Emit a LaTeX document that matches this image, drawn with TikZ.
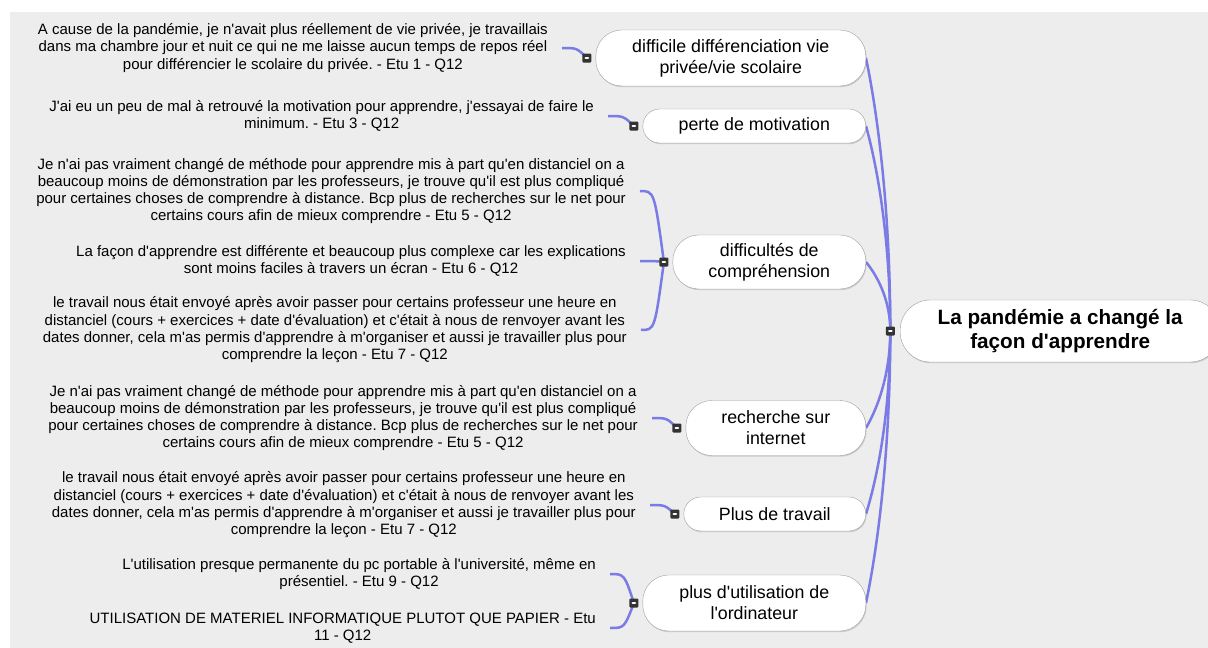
\documentclass[tikz,border=0pt]{standalone}
\usepackage{fontspec}
\newfontfamily\mapfont{Liberation Sans}
\usepackage{tikz}
\usetikzlibrary{positioning,backgrounds,shadows,calc}
\usepackage{xcolor}
\definecolor{bgc}{HTML}{EDEDED}
\definecolor{linkc}{HTML}{7B7BE6}
\definecolor{markc}{HTML}{333333}
\definecolor{rimc}{HTML}{A0A0A0}
\frenchspacing

\tikzset{
  branch/.style={draw=rimc, fill=white, rounded corners=#1, align=center, anchor=east,
    inner sep=0pt, font=\mapfont\fontsize{17.8}{21}\selectfont,
    drop shadow={shadow xshift=0.8pt, shadow yshift=-1.2pt, opacity=0.25, fill=black!60}},
  branch/.default=17pt,
  leaf/.style={align=center, anchor=east, inner xsep=14pt, inner ysep=0pt,
    font=\mapfont\fontsize{15}{17.3}\selectfont},
  link/.style={draw=linkc, line width=2.5pt},
  minus/.style={fill=markc, minimum size=9pt, inner sep=0pt, rounded corners=1pt,
    path picture={\fill[white] ([xshift=2pt,yshift=-0.8pt]path picture bounding box.west)
      rectangle ([xshift=-2pt,yshift=0.8pt]path picture bounding box.east);}},
}

\begin{document}
\begin{tikzpicture}[x=1pt,y=-1pt]
\useasboundingbox (0,0) rectangle (1208,648);

% centre
\node[branch=30pt, anchor=west, minimum width=320pt, minimum height=62pt,
  font=\mapfont\bfseries\fontsize{20.7}{24}\selectfont] (root) at (900,331)
  {La pandémie a changé la\\façon d'apprendre};
\node[minus, left=5pt of root] (mr) {};

% themes
\node[branch=26pt, minimum width=270pt, minimum height=56pt] (b1) at (866,58)
  {difficile différenciation vie\\privée/vie scolaire};
\node[branch, minimum width=223pt, minimum height=34pt] (b2) at (866,126)
  {perte de motivation};
\node[branch=26pt, minimum width=193pt, minimum height=54pt] (b3) at (866,262)
  {difficultés de\\compréhension};
\node[branch=26pt, minimum width=180pt, minimum height=55pt] (b4) at (866,428)
  {recherche sur\\internet};
\node[branch, minimum width=182pt, minimum height=34pt] (b5) at (866,514)
  {Plus de travail};
\node[branch=26pt, minimum width=223pt, minimum height=56pt] (b6) at (866,603)
  {plus d'utilisation de\\l'ordinateur};
\foreach \i in {1,...,6} {\node[minus, left=4pt of b\i] (m\i) {};}

% quotes
\node[leaf] (l1) at (562,48)
  {A cause de la pandémie, je n'avait plus réellement de vie privée, je travaillais\\
   dans ma chambre jour et nuit ce qui ne me laisse aucun temps de repos réel\\
   pour différencier le scolaire du privée. - Etu 1 - Q12};
\node[leaf] (l2) at (608,116)
  {J'ai eu un peu de mal à retrouvé la motivation pour apprendre, j'essayai de faire le\\
   minimum. - Etu 3 - Q12};
\node[leaf] (l3a) at (640,191)
  {Je n'ai pas vraiment changé de méthode pour apprendre mis à part qu'en distanciel on a\\
   beaucoup moins de démonstration par les professeurs, je trouve qu'il est plus compliqué\\
   pour certaines choses de comprendre à distance. Bcp plus de recherches sur le net pour\\
   certains cours afin de mieux comprendre - Etu 5 - Q12};
\node[leaf] (l3b) at (640,261)
  {La façon d'apprendre est différente et beaucoup plus complexe car les explications\\
   sont moins faciles à travers un écran - Etu 6 - Q12};
\node[leaf] (l3c) at (641,330)
  {le travail nous était envoyé après avoir passer pour certains professeur une heure en\\
   distanciel (cours + exercices + date d'évaluation) et c'était à nous de renvoyer avant les\\
   dates donner, cela m'as permis d'apprendre à m'organiser et aussi je travailler plus pour\\
   comprendre la leçon - Etu 7 - Q12};
\node[leaf] (l4) at (652,418)
  {Je n'ai pas vraiment changé de méthode pour apprendre mis à part qu'en distanciel on a\\
   beaucoup moins de démonstration par les professeurs, je trouve qu'il est plus compliqué\\
   pour certaines choses de comprendre à distance. Bcp plus de recherches sur le net pour\\
   certains cours afin de mieux comprendre - Etu 5 - Q12};
\node[leaf] (l5) at (650,505)
  {le travail nous était envoyé après avoir passer pour certains professeur une heure en\\
   distanciel (cours + exercices + date d'évaluation) et c'était à nous de renvoyer avant les\\
   dates donner, cela m'as permis d'apprendre à m'organiser et aussi je travailler plus pour\\
   comprendre la leçon - Etu 7 - Q12};
\node[leaf] (l6a) at (610,574)
  {L'utilisation presque permanente du pc portable à l'université, même en\\
   présentiel. - Etu 9 - Q12};
\node[leaf] (l6b) at (610,628)
  {UTILISATION DE MATERIEL INFORMATIQUE PLUTOT QUE PAPIER - Etu\\
   11 - Q12};

\begin{scope}[on background layer]
\fill[bgc] (10,12) rectangle (1208,648);
\foreach \b in {b1,b2,b3,b4,b5,b6}
  \draw[link] (\b.east) .. controls ($(\b.east)!0.25!(mr.center)+(8,0)$)
    and ($(\b.east)!0.6!(mr.center)+(9.6,0)$) .. (mr.center);
\foreach \m/\l in {m1/l1,m2/l2,m3/l3a,m3/l3b,m3/l3c,m4/l4,m5/l5,m6/l6a,m6/l6b}
  \draw[link] (\m.center) .. controls ($(\m.center |- \l.east)!0.4!(\l.east)$) .. (\l.east);
\end{scope}
\end{tikzpicture}
\end{document}
